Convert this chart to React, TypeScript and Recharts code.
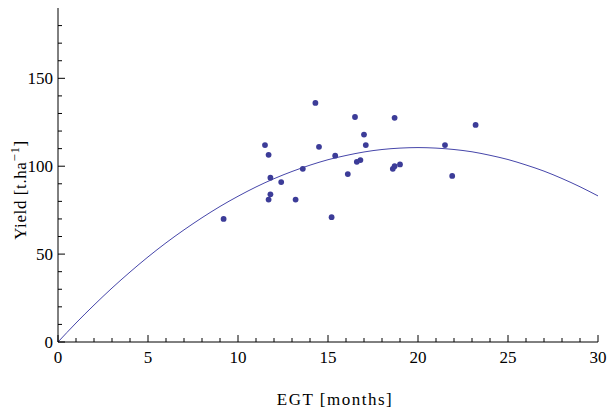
import React from "react";
import {
  ComposedChart,
  Scatter,
  Line,
  XAxis,
  YAxis,
  Label,
} from "recharts";

// Observed yield against EGT
const egtMonths = [
  9.2, 11.5, 11.7, 11.8, 11.8, 11.7, 12.4, 13.2, 13.6, 14.3, 14.5, 15.2, 15.4,
  16.1, 16.5, 16.6, 16.8, 17.0, 17.1, 18.6, 18.7, 18.7, 19.0, 21.5, 21.9, 23.2,
];
const yieldObs = [
  70, 112, 106.5, 93.5, 84, 81, 91, 81, 98.5, 136, 111, 71, 106, 95.5, 128,
  102.5, 103.5, 118, 112, 98.5, 100, 127.5, 101, 112, 94.5, 123.5,
];

// Fitted curve, read at each whole month
const fitMonths = [
  0, 1, 2, 3, 4, 5, 6, 7, 8, 9, 10, 11, 12, 13, 14, 15, 16, 17, 18, 19, 20,
  21, 22, 23, 24, 25, 26, 27, 28, 29, 30,
];
const fitYield = [
  0, 10.8, 21, 30.7, 39.8, 48.4, 56.4, 63.8, 70.7, 77.1, 82.9, 88.2, 92.9, 97,
  100.6, 103.7, 106.1, 108.1, 109.5, 110.3, 110.6, 110.3, 109.5, 108.2, 106.2,
  103.8, 100.7, 97.2, 93, 88.3, 83.1,
];

const xTicks = fitMonths;
const yTicks = [0, 10, 20, 30, 40, 50, 60, 70, 80, 90, 100, 110, 120, 130, 140, 150, 160, 170, 180];

const points = egtMonths.map((x, i) => ({ x, y: yieldObs[i] }));
const curve = fitMonths.map((x, i) => ({ x, y: fitYield[i] }));

const FONT = "'Liberation Serif', 'DejaVu Serif', serif";
const DOT = "#3c3c98";
const LINE = "#4646aa";

const XTick = (props: any) => {
  const { x, y, payload } = props;
  const major = payload.value % 5 === 0;
  return (
    <g>
      <line x1={x} y1={y} x2={x} y2={y - (major ? 7 : 4)} stroke="#000" strokeWidth={1} />
      {major && (
        <text x={x} y={y + 21} textAnchor="middle" fontFamily={FONT} fontSize={17} fill="#000">
          {payload.value}
        </text>
      )}
    </g>
  );
};

const YTick = (props: any) => {
  const { x, y, payload } = props;
  const major = payload.value % 50 === 0;
  return (
    <g>
      <line x1={x} y1={y} x2={x + (major ? 7 : 4)} y2={y} stroke="#000" strokeWidth={1} />
      {major && (
        <text x={x - 5} y={y + 6} textAnchor="end" fontFamily={FONT} fontSize={17} fill="#000">
          {payload.value}
        </text>
      )}
    </g>
  );
};

const YTitle = () => (
  <text
    transform="translate(26,190) rotate(-90)"
    textAnchor="middle"
    fontFamily={FONT}
    fontSize={17}
    letterSpacing={0.6}
    fill="#000"
  >
    Yield [t.ha
    <tspan dy={-7} fontSize={13}>−1</tspan>
    <tspan dy={7}>]</tspan>
  </text>
);

const Dot = (props: any) => {
  const { cx, cy } = props;
  return <circle cx={cx} cy={cy} r={2.9} fill={DOT} />;
};

export default function App() {
  return (
    <div style={{ position: "absolute", left: 0, top: 0, background: "#fff" }}>
      <ComposedChart
        width={611}
        height={414}
        margin={{ top: 8, right: 13, bottom: 0, left: 0 }}
      >
        <XAxis
          dataKey="x"
          type="number"
          domain={[0, 30]}
          ticks={xTicks}
          interval={0}
          tick={<XTick />}
          tickSize={0}
          tickMargin={0}
          tickLine={false}
          axisLine={{ stroke: "#000", strokeWidth: 1 }}
          height={72}
        >
          <Label
            value="EGT [months]"
            position="insideBottom"
            offset={9}
            dx={7}
            style={{ fontFamily: FONT, fontSize: 17, letterSpacing: 1.5, fill: "#000" }}
          />
        </XAxis>
        <YAxis
          dataKey="y"
          type="number"
          domain={[0, 190]}
          ticks={yTicks}
          interval={0}
          tick={<YTick />}
          tickSize={0}
          tickMargin={0}
          tickLine={false}
          axisLine={{ stroke: "#000", strokeWidth: 1 }}
          width={58}
          label={<YTitle />}
        />
        <Line
          data={curve}
          dataKey="y"
          type="monotone"
          stroke={LINE}
          strokeWidth={1}
          dot={false}
          activeDot={false}
          isAnimationActive={false}
        />
        <Scatter
          data={points}
          dataKey="y"
          fill={DOT}
          shape={<Dot />}
          isAnimationActive={false}
        />
      </ComposedChart>
    </div>
  );
}
